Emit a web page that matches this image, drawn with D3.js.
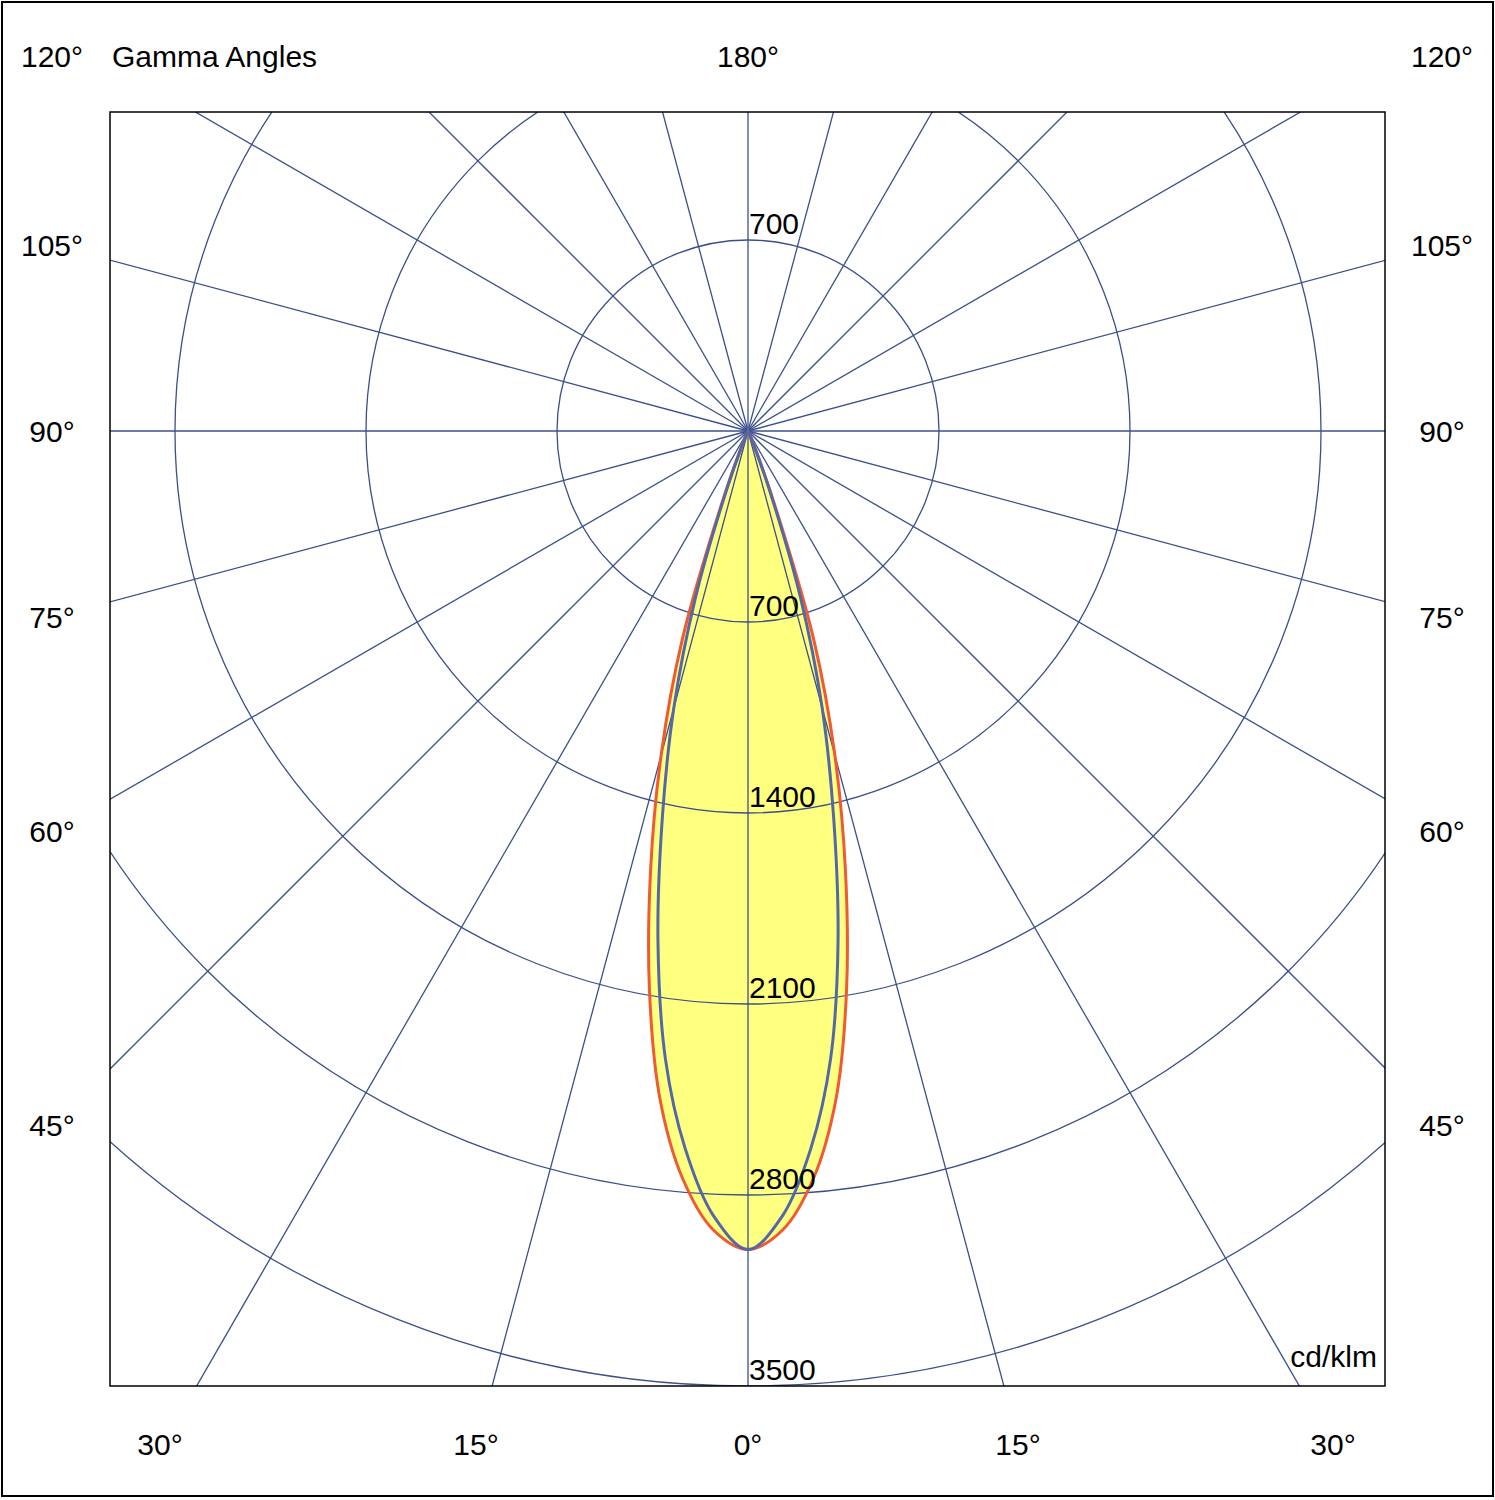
<!DOCTYPE html><html><head><meta charset="utf-8">
<script src="https://cdn.jsdelivr.net/npm/d3@7"></script>
<style>body{margin:0;background:#fff}text{font-family:"Liberation Sans",Arial,sans-serif;font-size:30px;fill:#000}</style>
</head><body><svg id="c" width="1495" height="1500"></svg>
<script>
const gammaDeg=[0,2.5,5,7.5,10,12.5,15,17.5,20,22.5,25];
const redValues=[3000,2930,2750,2470,2080,1650,1230,800,270,60,0];
const blueValues=[3000,2880,2640,2320,1900,1450,1050,640,230,50,0];
const ringValues=[700,1400,2100,2800,3500];
const spokeAngles=d3.range(0,360,15);
const sideLabels=[["120°",56],["105°",245],["90°",431],["75°",617],["60°",831],["45°",1125]];
const bottomLabels=[["30°",160],["15°",476],["0°",748],["15°",1018],["30°",1333]];

const svg=d3.select("#c");
const cx=748,cy=431;
const r=d3.scaleLinear().domain([0,3500]).range([0,955]);
const box={x0:110,y0:112,x1:1385,y1:1386};
const grid="#3b4f8c";
svg.append("rect").attr("x",2).attr("y",2).attr("width",1491).attr("height",1494).attr("fill","none").attr("stroke","#000").attr("stroke-width",2);
svg.append("clipPath").attr("id","cl").append("rect").attr("x",box.x0).attr("y",box.y0).attr("width",box.x1-box.x0).attr("height",box.y1-box.y0);
const g=svg.append("g").attr("clip-path","url(#cl)");
function pts(vals){const full=[];gammaDeg.forEach((a,i)=>full.push([-a,vals[i]]));full.reverse();gammaDeg.forEach((a,i)=>{if(i>0)full.push([a,vals[i]])});
 return full.map(([a,v])=>{const t=a*Math.PI/180;return [cx+r(v)*Math.sin(t),cy+r(v)*Math.cos(t)]});}
const line=d3.line().curve(d3.curveCatmullRomClosed.alpha(0.5));
const red=pts(redValues),blue=pts(blueValues);
g.append("path").attr("d",line(red)).attr("fill","#ffff80");
g.append("path").attr("d",line(blue)).attr("fill","#ffff80");
ringValues.forEach(v=>{
 g.append("circle").attr("cx",cx).attr("cy",cy).attr("r",r(v)).attr("fill","none").attr("stroke",grid).attr("stroke-width",1.3);
});
spokeAngles.forEach(a=>{const t=a*Math.PI/180;
 g.append("line").attr("x1",cx).attr("y1",cy).attr("x2",cx+2000*Math.sin(t)).attr("y2",cy+2000*Math.cos(t)).attr("stroke",grid).attr("stroke-width",1.3);});
g.append("path").attr("d",line(red)).attr("fill","none").attr("stroke","#f05a32").attr("stroke-width",3);
g.append("path").attr("d",line(blue)).attr("fill","none").attr("stroke","#5468a8").attr("stroke-width",3);
svg.append("rect").attr("x",box.x0).attr("y",box.y0).attr("width",box.x1-box.x0).attr("height",box.y1-box.y0).attr("fill","none").attr("stroke","#000").attr("stroke-width",1.5);
ringValues.forEach(v=>{svg.append("text").attr("x",749).attr("y",cy+r(v)-6).text(v);});
svg.append("text").attr("x",749).attr("y",cy-r(700)-6).text(700);
sideLabels.forEach(([t,y])=>{
 svg.append("text").attr("x",52).attr("y",y+11).attr("text-anchor","middle").text(t);
 svg.append("text").attr("x",1442).attr("y",y+11).attr("text-anchor","middle").text(t);});
svg.append("text").attr("x",748).attr("y",67).attr("text-anchor","middle").text("180°");
svg.append("text").attr("x",112).attr("y",67).text("Gamma Angles");
bottomLabels.forEach(([t,x])=>svg.append("text").attr("x",x).attr("y",1455).attr("text-anchor","middle").text(t));
svg.append("text").attr("x",1377).attr("y",1367).attr("text-anchor","end").text("cd/klm");
</script></body></html>
